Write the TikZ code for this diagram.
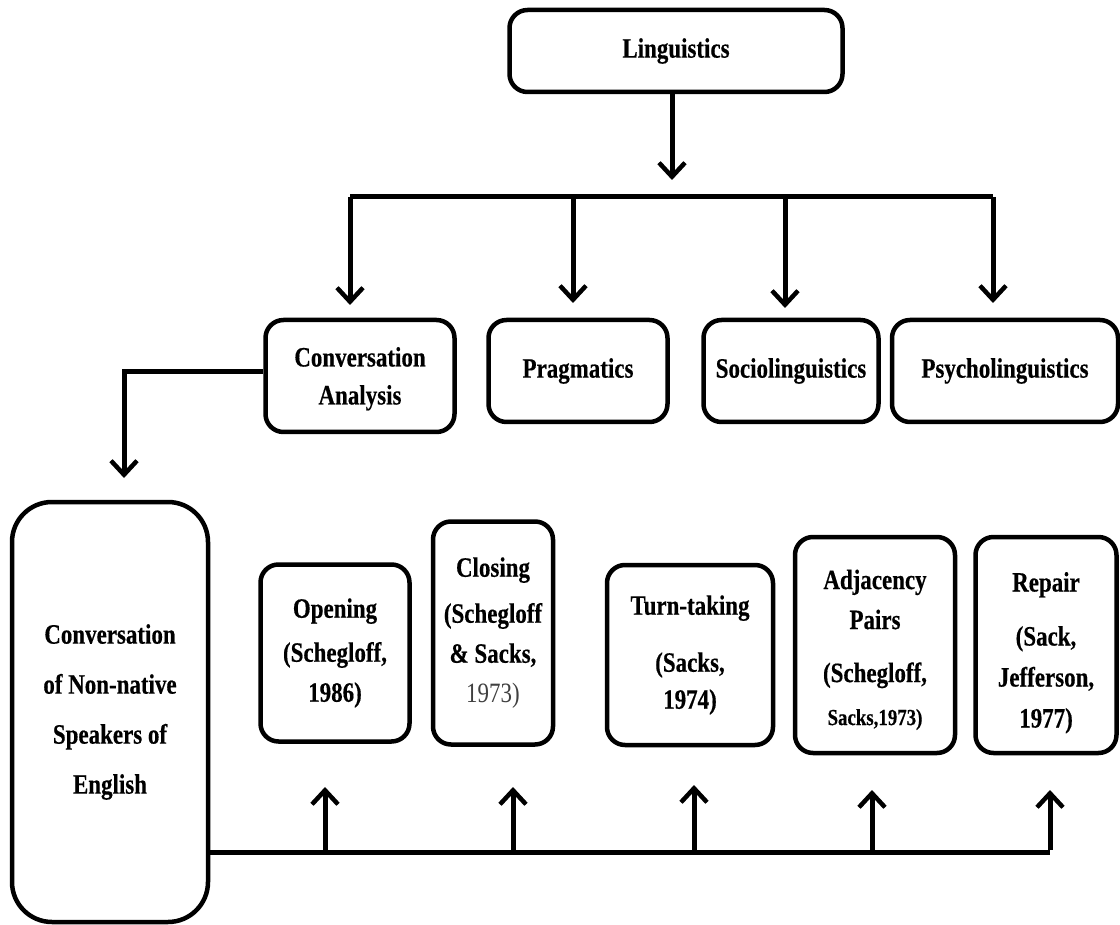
\documentclass[tikz,border=0pt]{standalone}
\usepackage{fontspec}
\setmainfont{Liberation Serif}[FakeStretch=0.82,BoldFeatures={FakeBold=0.4}]
\usetikzlibrary{arrows.meta}
\begin{document}
\begin{tikzpicture}[x=1pt,y=-1pt,
  box/.style={draw=black, line width=4.5pt, rounded corners=18pt, inner sep=0pt, align=center,
    font=\fontsize{28}{40}\selectfont\bfseries},
  conn/.style={line width=5pt},
  arr/.style={line width=5pt, -{Straight Barb[length=14pt,width=26pt,line width=4.5pt]}}
]
\useasboundingbox (0,0) rectangle (1120,925);
% top
\node[box, minimum width=333pt, minimum height=82pt] (ling) at (676,51) {Linguistics};
\node[box, minimum width=189pt, minimum height=112pt] (ca) at (360,376) {\rule{0pt}{25pt}Conversation\\[-2pt]Analysis};
\node[box, minimum width=179pt, minimum height=102pt] (prag) at (578,371) {Pragmatics};
\node[box, minimum width=175pt, minimum height=102pt] (soc) at (791,371) {Sociolinguistics};
\node[box, minimum width=226pt, minimum height=102pt] (psy) at (1005,371) {Psycholinguistics};
% bottom
\node[box, rounded corners=40pt, minimum width=196pt, minimum height=420pt] (big) at (110,712)
  {Conversation\\[10pt]of Non-native\\[10pt]Speakers of\\[10pt]English};
\node[box, minimum width=149pt, minimum height=177pt] (open) at (335,653)
  {Opening\\[4pt](Schegloff,\\1986)};
\node[box, minimum width=120pt, minimum height=223pt] (clos) at (493,633)
  {Closing\\[6pt](Schegloff\\\& Sacks,\\{\mdseries\color{black!75}1973)}};
\node[box, minimum width=166pt, minimum height=180pt] (turn) at (690,655)
  {Turn-taking\\[17pt](Sacks,\\[-3pt]1974)};
\node[box, minimum width=160pt, minimum height=216pt] (adj) at (875,645)
  {\rule{0pt}{29pt}Adjacency\\Pairs\\[13pt](Schegloff,\\[3pt]{\fontsize{23}{36}\selectfont Sacks,1973)}};
\node[box, minimum width=141pt, minimum height=216pt] (rep) at (1046,645)
  {\rule{0pt}{35pt}Repair\\[14pt](Sack,\\[1pt]Jefferson,\\[1pt]1977)};
% coordinates
\coordinate (lingE) at (ling.south -| 672,0);
\coordinate (hub) at (672,180);
\coordinate (barL) at (350,197);
\coordinate (barR) at (993,197);
\coordinate (b2) at (573,197);
\coordinate (b3) at (785,197);
\coordinate (caL) at (124,372);
\coordinate (caE) at (124,478);
\coordinate (botL) at (big.east |- 0,852);
\coordinate (u1) at (325,852);
\coordinate (u2) at (513,852);
\coordinate (u3) at (694,852);
\coordinate (u4) at (872,852);
\coordinate (u5) at (1050,852);
% connectors
\draw[arr] (lingE) -- (hub);
\draw[conn] (barL) -- (barR);
\draw[arr] (barL) -- (350,305);
\draw[arr] (b2) -- (573,303);
\draw[arr] (b3) -- (785,308);
\draw[arr] (barR) -- (993,303);
\draw[arr] (ca.west |- caL) -- (caL) -- (caE);
\draw[conn] (botL) -- (u5);
\draw[arr] (u1) -- (325,787);
\draw[arr] (u2) -- (513,787);
\draw[arr] (u3) -- (694,785);
\draw[arr] (u4) -- (872,790);
\draw[arr] ([yshift=2.5pt]u5) -- (1050,790);
\end{tikzpicture}
\end{document}
